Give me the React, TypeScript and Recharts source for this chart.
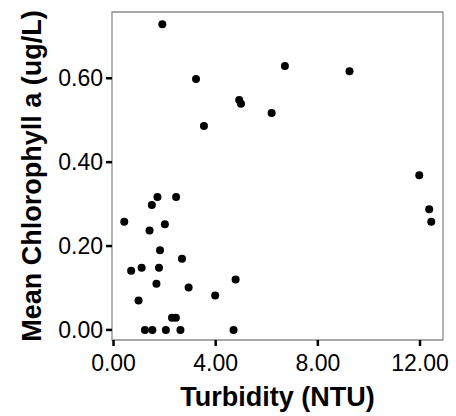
import {
  ScatterChart,
  Scatter,
  XAxis,
  YAxis,
  ReferenceArea,
  Label,
} from "recharts";

// turbidity (NTU) and mean chlorophyll a (ug/L)
const turbidity = [
  1.91, 3.23, 4.92, 4.99, 6.19, 3.54, 6.71, 9.24, 11.97, 12.36, 12.44,
  1.72, 2.45, 1.5, 0.42, 2.01, 1.41, 1.82, 2.68, 0.69, 1.1, 1.78, 4.78,
  1.68, 2.94, 3.98, 0.98, 2.29, 2.44, 1.23, 1.52, 2.05, 2.62, 4.7,
];
const chlorophyll = [
  0.729, 0.598, 0.548, 0.539, 0.517, 0.486, 0.629, 0.617, 0.369, 0.288, 0.258,
  0.317, 0.317, 0.298, 0.258, 0.252, 0.237, 0.19, 0.17, 0.141, 0.148, 0.148, 0.12,
  0.11, 0.101, 0.082, 0.07, 0.029, 0.029, 0, 0, 0, 0, 0,
];
const xTicks = [0, 4, 8, 12];
const yTicks = [0, 0.2, 0.4, 0.6];

const points = turbidity.map((x, i) => ({ x, y: chlorophyll[i] }));

const xDomain: [number, number] = [-0.06, 12.9];
const yDomain: [number, number] = [-0.024, 0.758];

const font = '"Liberation Sans", Arial, Helvetica, sans-serif';

const Dot = (props: any) => (
  <circle cx={props.cx} cy={props.cy} r={4} fill="#000" />
);

const XTitle = ({ viewBox }: any) => (
  <text
    x={viewBox.x + viewBox.width / 2}
    y={406}
    textAnchor="middle"
    fontSize={27}
    fontWeight="bold"
    fontFamily={font}
    fill="#000"
  >
    Turbidity (NTU)
  </text>
);

const YTitle = ({ viewBox }: any) => {
  const cy = viewBox.y + viewBox.height / 2;
  return (
    <text
      x={40.5}
      y={cy}
      transform={`rotate(-90, 40.5, ${cy})`}
      textAnchor="middle"
      fontSize={27}
      fontWeight="bold"
      fontFamily={font}
      fill="#000"
    >
      Mean Chlorophyll a (ug/L)
    </text>
  );
};

export default function App() {
  return (
    <div style={{ position: "absolute", left: 0, top: 0, background: "#fff" }}>
      <ScatterChart
        width={456}
        height={416}
        margin={{ top: 12, right: 13, bottom: 0, left: 0 }}
      >
        <XAxis
          type="number"
          dataKey="x"
          domain={xDomain}
          ticks={xTicks}
          allowDataOverflow
          tickFormatter={(v: number) => v.toFixed(2)}
          height={76}
          axisLine={false}
          tickLine={{ stroke: "#000", strokeWidth: 2.5 }}
          tickSize={6}
          tickMargin={9}
          tick={{ fontSize: 23, fill: "#000", fontFamily: font }}
        >
          <Label content={XTitle} />
        </XAxis>
        <YAxis
          type="number"
          dataKey="y"
          domain={yDomain}
          ticks={yTicks}
          allowDataOverflow
          tickFormatter={(v: number) => v.toFixed(2)}
          width={112}
          axisLine={false}
          tickLine={{ stroke: "#000", strokeWidth: 2.5 }}
          tickSize={6}
          tickMargin={3}
          tick={{ fontSize: 23, fill: "#000", fontFamily: font }}
        >
          <Label content={YTitle} />
        </YAxis>
        <ReferenceArea
          x1={xDomain[0]}
          x2={xDomain[1]}
          y1={yDomain[0]}
          y2={yDomain[1]}
          fill="none"
          fillOpacity={0}
          stroke="#8a8a8a"
          strokeWidth={1.3}
          strokeOpacity={1}
        />
        <Scatter data={points} shape={Dot} isAnimationActive={false} />
      </ScatterChart>
    </div>
  );
}
